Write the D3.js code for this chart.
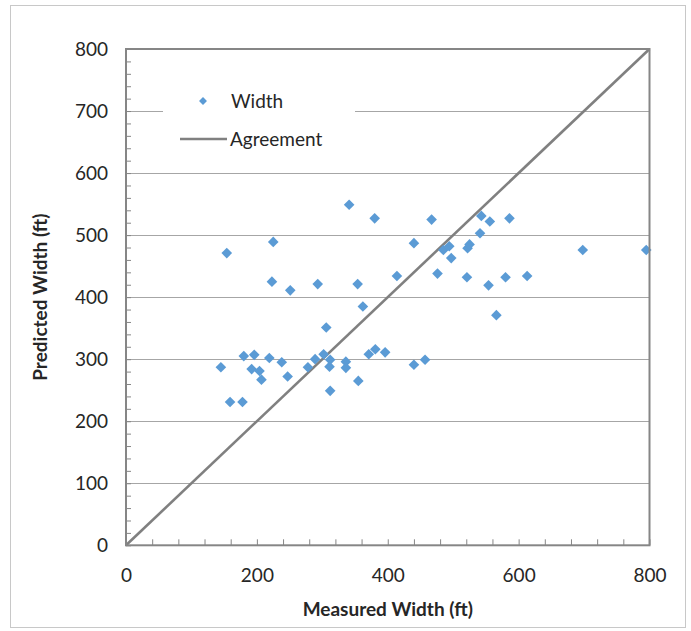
<!DOCTYPE html>
<html>
<head>
<meta charset="utf-8">
<script src="https://cdn.jsdelivr.net/npm/d3@7"></script>
<style>
  html, body { margin: 0; padding: 0; background: #ffffff; }
  svg { display: block; }
  text { font-family: Lato, "Open Sans", sans-serif; fill: #262626; }
</style>
</head>
<body>
<svg id="chart" width="691" height="631"></svg>
<script>
// ---- data ----
const measuredWidth = [154, 225, 223, 251, 293, 145, 180, 196, 192, 204, 207, 219, 238, 247, 159, 178, 278, 289,
  341, 380, 467, 543, 556, 541, 440, 485, 494, 497, 522, 525, 414, 476, 521, 554, 354, 362, 566, 306,
  302, 312, 311, 336, 336, 312, 355, 371, 381, 396, 440, 457, 586, 698, 795, 580, 613];
const predictedWidth = [471, 489, 425, 411, 421, 287, 305, 307, 284, 281, 267, 302, 295, 272, 231, 231, 287, 300,
  549, 527, 525, 531, 522, 503, 487, 476, 482, 463, 479, 485, 434, 438, 432, 419, 421, 385, 371, 351,
  308, 299, 288, 296, 286, 249, 265, 308, 316, 311, 291, 299, 527, 476, 476, 432, 434];
const agreementX = [0, 800];
const agreementY = [0, 800];
const xTickLabels = [0, 200, 400, 600, 800];
const yTickLabels = [0, 100, 200, 300, 400, 500, 600, 700, 800];
const seriesNames = ["Width", "Agreement"];
const xTitle = "Measured Width (ft)";
const yTitle = "Predicted Width (ft)";

// ---- layout ----
const svg = d3.select("#chart");
const pL = 126, pR = 649.5, pT = 49, pB = 545.3;
const x = d3.scaleLinear().domain([0, 800]).range([pL, pR]);
const y = d3.scaleLinear().domain([0, 800]).range([pB, pT]);
const blue = "#5B9BD5", gray = "#868686";

// outer chart border
svg.append("rect").attr("x", 10.5).attr("y", 5.5).attr("width", 675).attr("height", 622)
  .attr("fill", "#fff").attr("stroke", "#c8c8c8").attr("stroke-width", 1);

// gridlines
svg.append("g").selectAll("line").data(yTickLabels.slice(1, -1)).join("line")
  .attr("x1", pL).attr("x2", pR)
  .attr("y1", d => Math.round(y(d)) + 0.5).attr("y2", d => Math.round(y(d)) + 0.5)
  .attr("stroke", "#a6a6a6").attr("stroke-width", 1);

// axes (minor ticks inside)
const xAxis = d3.axisBottom(x).tickValues(d3.range(0, 801, 40)).tickSize(-6).tickPadding(23)
  .tickFormat(d => xTickLabels.includes(d) ? d : "");
const gx = svg.append("g").attr("transform", `translate(0,${pB})`).call(xAxis);
const yAxis = d3.axisLeft(y).tickValues(d3.range(0, 801, 20)).tickSize(-5).tickPadding(18)
  .tickFormat(d => yTickLabels.includes(d) ? d : "");
const gy = svg.append("g").attr("transform", `translate(${pL},0)`).call(yAxis);
[gx, gy].forEach(g => {
  g.select(".domain").remove();
  g.selectAll(".tick line").attr("stroke", gray).attr("stroke-width", 1);
  g.selectAll(".tick text").attr("font-size", 19).attr("font-family", "Lato, sans-serif").attr("fill", "#262626");
});

// agreement line
const line = d3.line().x(d => x(d[0])).y(d => y(d[1]));
svg.append("path").datum(agreementX.map((v, i) => [v, agreementY[i]]))
  .attr("d", line).attr("fill", "none").attr("stroke", "#808080").attr("stroke-width", 2.6);

// points
const diamond = d3.symbol().type(d3.symbolDiamond2).size(72);
svg.append("g").selectAll("path").data(measuredWidth.map((v, i) => [v, predictedWidth[i]])).join("path")
  .attr("d", diamond)
  .attr("transform", d => `translate(${x(d[0])},${y(d[1])})`)
  .attr("fill", blue);

// plot border
svg.append("rect").attr("x", pL).attr("y", pT).attr("width", pR - pL).attr("height", pB - pT)
  .attr("fill", "none").attr("stroke", gray).attr("stroke-width", 2);

// legend
const lg = svg.append("g");
lg.append("rect").attr("x", 163).attr("y", 80).attr("width", 192).attr("height", 80).attr("fill", "#fff");
lg.append("path").attr("d", d3.symbol().type(d3.symbolDiamond2).size(40))
  .attr("transform", "translate(203,101)").attr("fill", blue);
lg.append("text").attr("x", 231).attr("y", 108).attr("font-size", 19).text(seriesNames[0]);
lg.append("line").attr("x1", 180).attr("x2", 227).attr("y1", 139).attr("y2", 139)
  .attr("stroke", "#808080").attr("stroke-width", 2.6);
lg.append("text").attr("x", 230).attr("y", 146).attr("font-size", 19).text(seriesNames[1]);

// axis titles
svg.append("text").attr("x", (pL + pR) / 2).attr("y", 616).attr("text-anchor", "middle")
  .attr("font-size", 19).attr("font-weight", "bold").text(xTitle);
svg.append("text").attr("transform", `translate(47,${(pT + pB) / 2}) rotate(-90)`)
  .attr("text-anchor", "middle").attr("font-size", 19).attr("font-weight", "bold").text(yTitle);
</script>
</body>
</html>
